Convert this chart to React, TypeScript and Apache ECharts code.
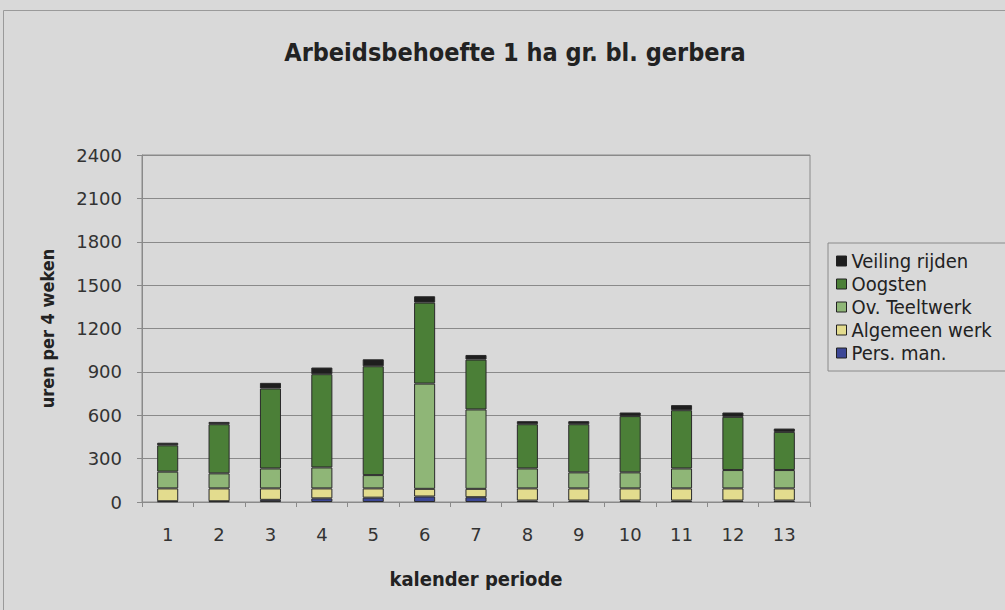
import React, { useEffect, useRef } from "react";
import * as echarts from "echarts";

const categories = ["1", "2", "3", "4", "5", "6", "7", "8", "9", "10", "11", "12", "13"];
const persMan = [5, 5, 15, 25, 30, 38, 33, 10, 10, 10, 10, 10, 10];
const algemeenWerk = [89, 89, 79, 69, 64, 53, 58, 84, 84, 84, 84, 84, 84];
const ovTeeltwerk = [116, 104, 138, 145, 92, 728, 549, 138, 111, 111, 138, 127, 127];
const oogsten = [182, 340, 553, 645, 753, 560, 345, 306, 333, 389, 403, 368, 264];
const veilingRijden = [18, 16, 39, 46, 48, 44, 32, 21, 21, 25, 35, 30, 23];
const yTicks = [0, 300, 600, 900, 1200, 1500, 1800, 2100, 2400];

const seriesDefs = [
  { name: "Pers. man.", data: persMan, color: "#3c4796" },
  { name: "Algemeen werk", data: algemeenWerk, color: "#e3dc8e" },
  { name: "Ov. Teeltwerk", data: ovTeeltwerk, color: "#8fb677" },
  { name: "Oogsten", data: oogsten, color: "#4b7f37" },
  { name: "Veiling rijden", data: veilingRijden, color: "#1e1e1e" },
];

const condensed = "'DejaVu Sans Condensed', 'DejaVu Sans', sans-serif";

export default function App() {
  const ref = useRef<HTMLDivElement>(null);
  useEffect(() => {
    if (!ref.current) return;
    const chart = echarts.init(ref.current, null, { renderer: "svg" });
    chart.setOption({
      animation: false,
      backgroundColor: "#d9d9d9",
      title: {
        text: "Arbeidsbehoefte 1 ha gr. bl. gerbera",
        left: 510,
        textAlign: "center",
        top: 35,
        textStyle: { fontFamily: condensed, fontWeight: "bold", fontSize: 25, color: "#222" },
      },
      graphic: [
        {
          type: "rect",
          shape: { x: 3.5, y: 10.5, width: 1010, height: 610 },
          style: { fill: "none", stroke: "#9a9a9a", lineWidth: 1 },
          silent: true,
        },
      ],
      legend: {
        orient: "vertical",
        left: 828,
        top: 243,
        padding: [8, 40, 8, 8],
        itemGap: 3,
        itemWidth: 10,
        itemHeight: 10,
        icon: "rect",
        borderColor: "#8a8a8a",
        borderWidth: 1,
        data: ["Veiling rijden", "Oogsten", "Ov. Teeltwerk", "Algemeen werk", "Pers. man."],
        textStyle: { fontFamily: condensed, fontSize: 20, lineHeight: 20, color: "#222", padding: [0, 0, 0, 0] },
        itemStyle: { borderColor: "#222", borderWidth: 1 },
      },
      grid: {
        left: 142,
        top: 155,
        right: 195,
        bottom: 108,
        show: true,
        borderColor: "#8a8a8a",
        borderWidth: 1,
        backgroundColor: "transparent",
        containLabel: false,
      },
      xAxis: {
        type: "category",
        data: categories,
        name: "kalender periode",
        nameLocation: "middle",
        nameGap: 67,
        nameTextStyle: { fontFamily: condensed, fontWeight: "bold", fontSize: 20, color: "#222" },
        axisLine: { lineStyle: { color: "#8a8a8a", width: 1 } },
        axisTick: { show: true, length: 5, lineStyle: { color: "#8a8a8a" } },
        axisLabel: { fontFamily: "'DejaVu Sans', sans-serif", fontSize: 18, color: "#333", margin: 23 },
      },
      yAxis: {
        type: "value",
        min: 0,
        max: 2400,
        interval: 300,
        name: "uren per 4 weken",
        nameLocation: "middle",
        nameGap: 86,
        nameRotate: 90,
        nameTextStyle: { fontFamily: condensed, fontWeight: "bold", fontSize: 18, color: "#222" },
        axisLine: { show: true, lineStyle: { color: "#8a8a8a", width: 1 } },
        axisTick: { show: true, length: 5, inside: false, lineStyle: { color: "#8a8a8a" } },
        axisLabel: {
          fontFamily: "'DejaVu Sans', sans-serif",
          fontSize: 18,
          color: "#333",
          margin: 20,
          formatter: (v: number) => (yTicks.includes(v) ? String(v) : ""),
        },
        splitLine: { show: true, lineStyle: { color: "#8a8a8a", width: 1 } },
      },
      series: seriesDefs.map((s) => ({
        name: s.name,
        type: "bar",
        stack: "total",
        data: s.data,
        barWidth: "41%",
        itemStyle: { color: s.color, borderColor: "#2a2a2a", borderWidth: 1 },
      })),
    });
    return () => chart.dispose();
  }, []);
  return (
    <div
      ref={ref}
      style={{ position: "fixed", left: 0, top: 0, width: 1005, height: 610 }}
    />
  );
}
